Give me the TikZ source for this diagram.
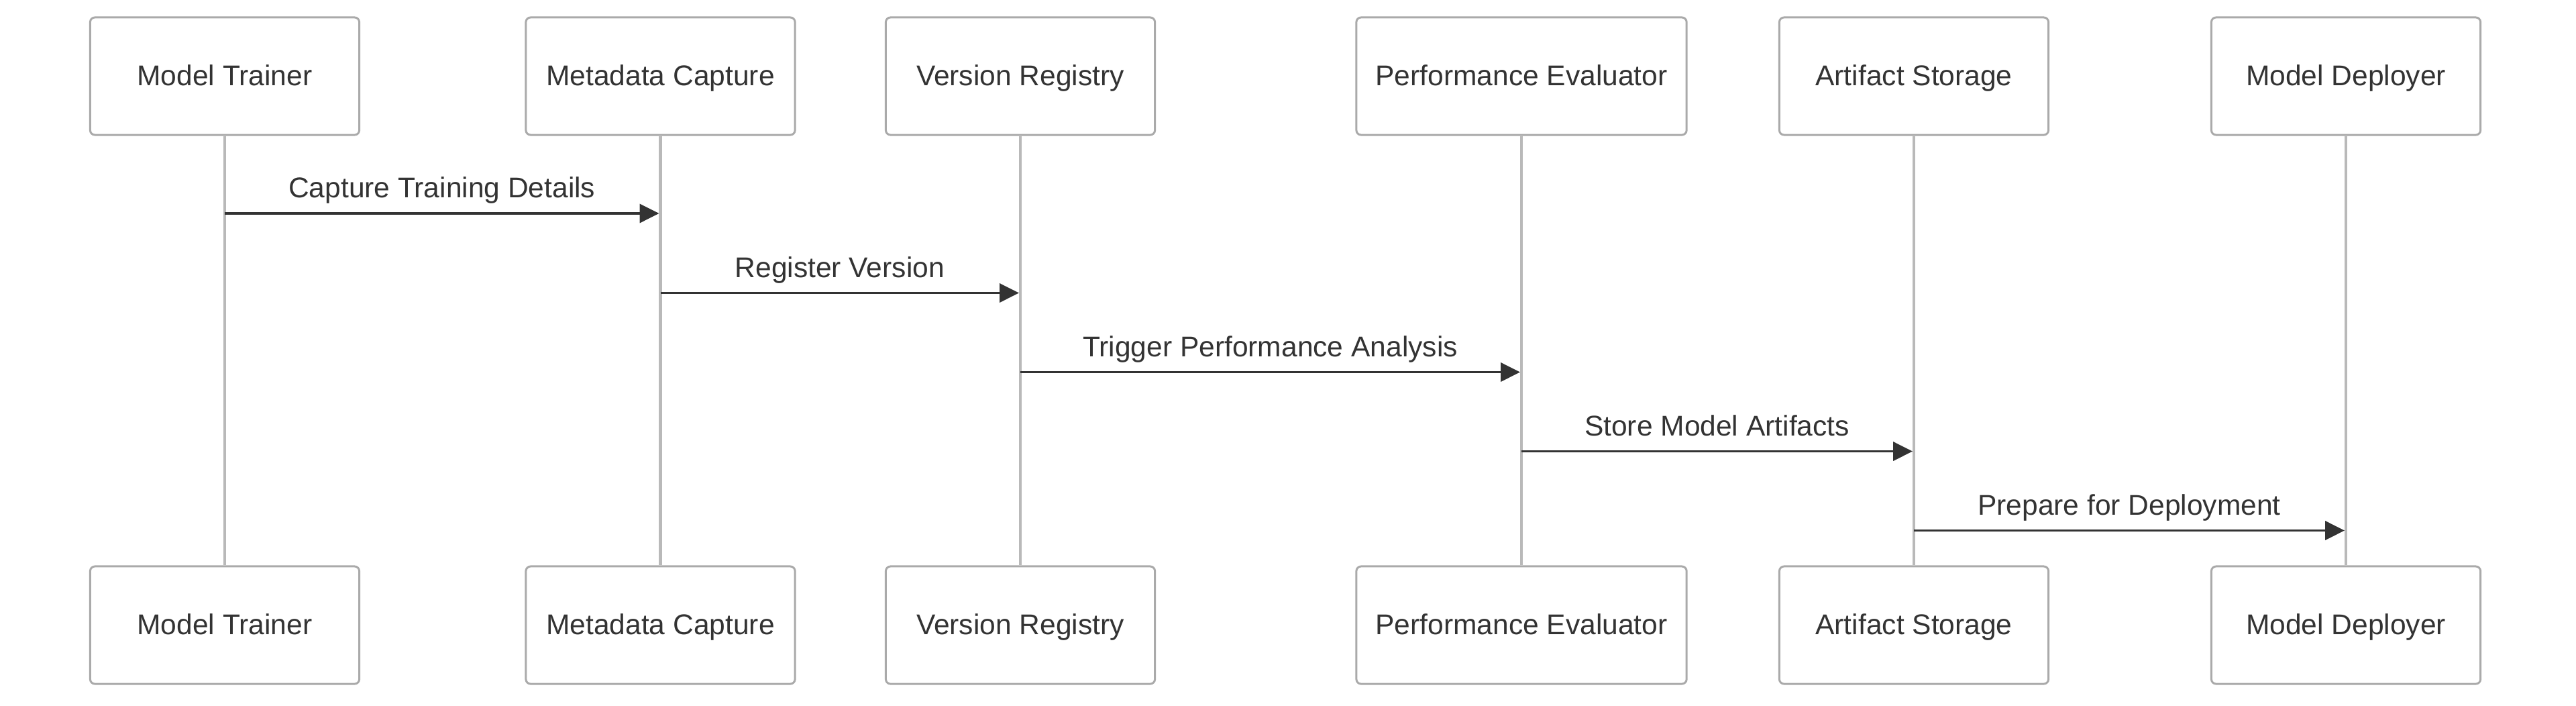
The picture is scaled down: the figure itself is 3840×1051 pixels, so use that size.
\documentclass[tikz,border=0pt]{standalone}
\usepackage{fontspec}
\setmainfont{Liberation Sans}
\usetikzlibrary{arrows.meta, calc}
\definecolor{actorborder}{RGB}{170,170,170}
\definecolor{lifegray}{RGB}{185,185,185}
\definecolor{msgdark}{RGB}{51,51,51}

\begin{document}
\begin{tikzpicture}[
    x=0.01cm, y=-0.01cm,
    actor/.style={draw=actorborder, line width=0.85pt, fill=white, minimum width=4.01cm, minimum height=1.75cm, rounded corners=2pt, text=msgdark, text height=1.0em, text depth=0.21em, font=\fontsize{12.1}{14}\selectfont},
    wideactor/.style={actor, minimum width=4.92cm},
    lifeline/.style={draw=lifegray, line width=1.25pt},
    msg/.style={draw=msgdark, line width=1.1pt, -{Triangle[length=8.2pt, width=7.9pt]}},
    msglabel/.style={anchor=base, yshift=0.23cm, text=msgdark, font=\fontsize{12.1}{14}\selectfont}
]
    % Canvas
    \useasboundingbox (0,0) rectangle (3840,1051);

    % Participants (top row)
    \node[actor] (mt) at (335,113.5) {Model Trainer};
    \node[actor] (mc) at (984.5,113.5) {Metadata Capture};
    \node[actor] (vr) at (1521,113.5) {Version Registry};
    \node[wideactor] (pe) at (2268,113.5) {Performance Evaluator};
    \node[actor] (as) at (2853,113.5) {Artifact Storage};
    \node[actor] (md) at (3497,113.5) {Model Deployer};

    % Participants (bottom row)
    \node[actor] (mtb) at (335,931.5) {Model Trainer};
    \node[actor] (mcb) at (984.5,931.5) {Metadata Capture};
    \node[actor] (vrb) at (1521,931.5) {Version Registry};
    \node[wideactor] (peb) at (2268,931.5) {Performance Evaluator};
    \node[actor] (asb) at (2853,931.5) {Artifact Storage};
    \node[actor] (mdb) at (3497,931.5) {Model Deployer};

    % Lifelines
    \draw[lifeline] (mt.south) -- (mtb.north);
    \draw[lifeline] (mc.south) -- (mcb.north);
    \draw[lifeline] (vr.south) -- (vrb.north);
    \draw[lifeline] (pe.south) -- (peb.north);
    \draw[lifeline] (as.south) -- (asb.north);
    \draw[lifeline] (md.south) -- (mdb.north);

    % Message rows
    \coordinate (r1) at (0,318);
    \coordinate (r2) at (0,436.5);
    \coordinate (r3) at (0,554.5);
    \coordinate (r4) at (0,672.5);
    \coordinate (r5) at (0,790.5);

    % Messages
    \draw[msg] (mt |- r1) -- ($(mc |- r1)+(-2,0)$) node[midway, msglabel] {Capture Training Details};
    \draw[msg] (mc |- r2) -- ($(vr |- r2)+(-2,0)$) node[midway, msglabel] {Register Version};
    \draw[msg] (vr |- r3) -- ($(pe |- r3)+(-2,0)$) node[midway, msglabel] {Trigger Performance Analysis};
    \draw[msg] (pe |- r4) -- ($(as |- r4)+(-2,0)$) node[midway, msglabel] {Store Model Artifacts};
    \draw[msg] (as |- r5) -- ($(md |- r5)+(-2,0)$) node[midway, msglabel] {Prepare for Deployment};
\end{tikzpicture}
\end{document}
